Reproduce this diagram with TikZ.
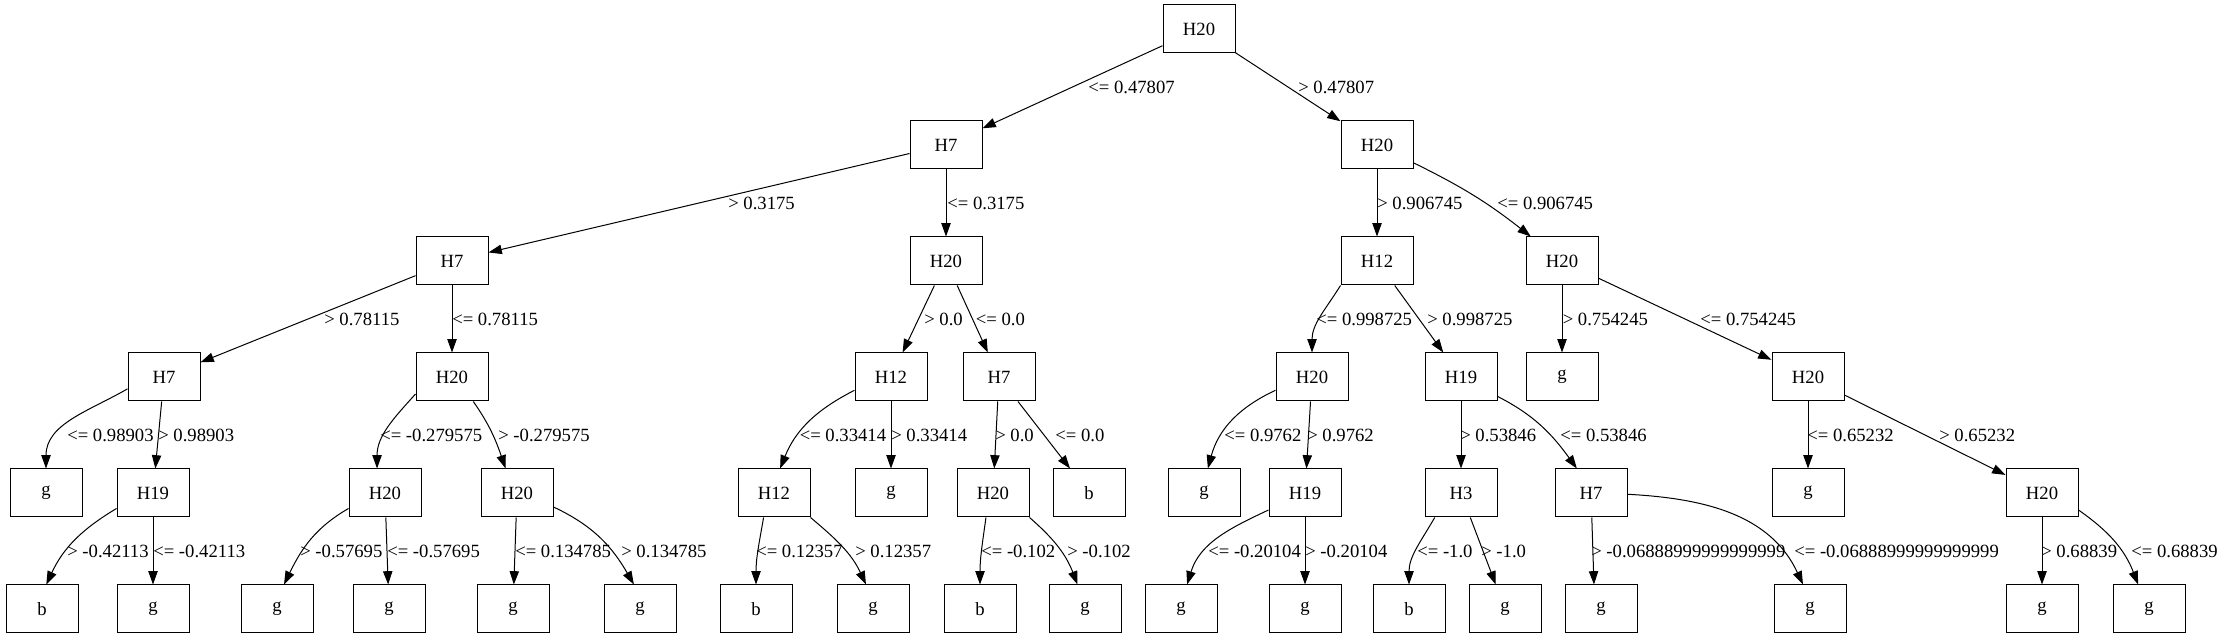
\documentclass[tikz,border=0pt]{standalone}
\usepackage{fontspec}
\setmainfont{Liberation Serif}
\usetikzlibrary{arrows.meta}
\begin{document}
\begin{tikzpicture}[x=0.75pt,y=0.75pt,
  box/.style={draw, line width=0.75pt, minimum width=54pt, minimum height=36pt, inner sep=0pt, font=\fontsize{14}{16}\selectfont},
  lbl/.style={anchor=west, inner sep=0pt, font=\fontsize{14}{16}\selectfont},
  arr/.style={line width=0.75pt, -{Triangle[length=10pt,width=7pt]}}]
\useasboundingbox (0,0) rectangle (2224,639);
% level 0
\node[box] (r) at (1199,610) {H20};
% level 1
\node[box] (a1) at (946,494) {H7};
\node[box] (a2) at (1377,494) {H20};
% level 2
\node[box] (b1) at (452,378) {H7};
\node[box] (b2) at (946,378) {H20};
\node[box] (b3) at (1377,378) {H12};
\node[box] (b4) at (1562,378) {H20};
% level 3
\node[box] (c1) at (164,262) {H7};
\node[box] (c2) at (452,262) {H20};
\node[box] (c3) at (891,262) {H12};
\node[box] (c4) at (999,262) {H7};
\node[box] (c5) at (1312,262) {H20};
\node[box] (c6) at (1461,262) {H19};
\node[box] (c7) at (1562,262) {g};
\node[box] (c8) at (1808,262) {H20};
% level 4
\node[box] (d1) at (46,146) {g};
\node[box] (d2) at (153,146) {H19};
\node[box] (d3) at (385,146) {H20};
\node[box] (d4) at (517,146) {H20};
\node[box] (d5) at (774,146) {H12};
\node[box] (d6) at (891,146) {g};
\node[box] (d7) at (993,146) {H20};
\node[box] (d8) at (1089,146) {b};
\node[box] (d9) at (1204,146) {g};
\node[box] (d10) at (1305,146) {H19};
\node[box] (d11) at (1461,146) {H3};
\node[box] (d12) at (1591,146) {H7};
\node[box] (d13) at (1808,146) {g};
\node[box] (d14) at (2042,146) {H20};
% level 5
\node[box] (e1) at (42,30) {b};
\node[box] (e2) at (153,30) {g};
\node[box] (e3) at (277,30) {g};
\node[box] (e4) at (389,30) {g};
\node[box] (e5) at (513,30) {g};
\node[box] (e6) at (640,30) {g};
\node[box] (e7) at (756,30) {b};
\node[box] (e8) at (873,30) {g};
\node[box] (e9) at (980,30) {b};
\node[box] (e10) at (1085,30) {g};
\node[box] (e11) at (1181,30) {g};
\node[box] (e12) at (1305,30) {g};
\node[box] (e13) at (1409,30) {b};
\node[box] (e14) at (1505,30) {g};
\node[box] (e15) at (1601,30) {g};
\node[box] (e16) at (1810,30) {g};
\node[box] (e17) at (2042,30) {g};
\node[box] (e18) at (2149,30) {g};
% edges
\draw[arr] (r) -- (a1);
\draw[arr] (r) -- (a2);
\draw[arr] (a1) -- (b1);
\draw[arr] (a1) -- (b2);
\draw[arr] (a2) -- (b3);
\draw[arr] (a2) to[bend left=6] (b4);
\draw[arr] (b1) -- (c1);
\draw[arr] (b1) -- (c2);
\draw[arr] (b2) -- (c3);
\draw[arr] (b2) -- (c4);
\draw[arr] (b3.south west) to[out=238,in=90] (c5.north);
\draw[arr] (b3) -- (c6);
\draw[arr] (b4) -- (c7);
\draw[arr] (b4) -- (c8);
\draw[arr] (c1.198) to[out=210,in=90] (d1.north);
\draw[arr] (c1) -- (d2);
\draw[arr] (c2.205) to[out=228,in=90] (d3.108);
\draw[arr] (c2.311) to[out=-55,in=109] (d4.115);
\draw[arr] (c3.200) to[out=207,in=68] (d5.76);
\draw[arr] (c3) -- (d6);
\draw[arr] (c4) -- (d7);
\draw[arr] (c4) -- (d8);
\draw[arr] (c5.200) to[out=205,in=75] (d9.81);
\draw[arr] (c5) -- (d10);
\draw[arr] (c6) -- (d11);
\draw[arr] (c6.332) to[out=-27,in=126] (d12.120);
\draw[arr] (c8) -- (d13);
\draw[arr] (c8) -- (d14);
\draw[arr] (d2.203) to[out=211,in=65] (e1.80);
\draw[arr] (d2) -- (e2);
\draw[arr] (d3.203) to[out=210,in=64] (e3.74);
\draw[arr] (d3) -- (e4);
\draw[arr] (d4) -- (e5);
\draw[arr] (d4.339) to[out=-25,in=120] (e6.104);
\draw[arr] (d5.247) to[out=260,in=90] (e7.north);
\draw[arr] (d5.south east) to[out=-40,in=115] (e8.106);
\draw[arr] (d7.254) to[out=262,in=90] (e9.north);
\draw[arr] (d7.south east) to[out=-41,in=111] (e10.107);
\draw[arr] (d10.205) to[out=205,in=73] (e11.76);
\draw[arr] (d10) -- (e12);
\draw[arr] (d11.223) to[out=240,in=90] (e13.north);
\draw[arr] (d11) -- (e14);
\draw[arr] (d12) -- (e15.106);
\draw[arr] (d12.358) to[out=-3,in=115] (e16.106);
\draw[arr] (d14) -- (e17);
\draw[arr] (d14.335) to[out=-35,in=111] (e18.114);
% labels level 0-1
\node[lbl] (l01) at (1088,552) {<= 0.47807};
\node[lbl] (l02) at (1298,552) {> 0.47807};
% labels level 1-2
\node[lbl] (l11) at (728,436) {> 0.3175};
\node[lbl] (l12) at (947,436) {<= 0.3175};
\node[lbl] (l13) at (1377,436) {> 0.906745};
\node[lbl] (l14) at (1497,436) {<= 0.906745};
% labels level 2-3
\node[lbl] (l21) at (324,320) {> 0.78115};
\node[lbl] (l22) at (452,320) {<= 0.78115};
\node[lbl] (l23) at (924,320) {> 0.0};
\node[lbl] (l24) at (975.5,320) {<= 0.0};
\node[lbl] (l25) at (1316,320) {<= 0.998725};
\node[lbl] (l26) at (1427,320) {> 0.998725};
\node[lbl] (l27) at (1562.5,320) {> 0.754245};
\node[lbl] (l28) at (1700,320) {<= 0.754245};
% labels level 3-4
\node[lbl] (l31) at (67,204) {<= 0.98903};
\node[lbl] (l32) at (158,204) {> 0.98903};
\node[lbl] (l33) at (380,204) {<= -0.279575};
\node[lbl] (l34) at (498,204) {> -0.279575};
\node[lbl] (l35) at (799.5,204) {<= 0.33414};
\node[lbl] (l36) at (891,204) {> 0.33414};
\node[lbl] (l37) at (995,204) {> 0.0};
\node[lbl] (l38) at (1055,204) {<= 0.0};
\node[lbl] (l39) at (1224,204) {<= 0.9762};
\node[lbl] (l310) at (1307,204) {> 0.9762};
\node[lbl] (l311) at (1460,204) {> 0.53846};
\node[lbl] (l312) at (1560,204) {<= 0.53846};
\node[lbl] (l313) at (1807,204) {<= 0.65232};
\node[lbl] (l314) at (1939,204) {> 0.65232};
% labels level 4-5
\node[lbl] (l41) at (67,88) {> -0.42113};
\node[lbl] (l42) at (153,88) {<= -0.42113};
\node[lbl] (l43) at (300,88) {> -0.57695};
\node[lbl] (l44) at (387,88) {<= -0.57695};
\node[lbl] (l45) at (515,88) {<= 0.134785};
\node[lbl] (l46) at (621,88) {> 0.134785};
\node[lbl] (l47) at (756,88) {<= 0.12357};
\node[lbl] (l48) at (855,88) {> 0.12357};
\node[lbl] (l49) at (981,88) {<= -0.102};
\node[lbl] (l410) at (1067,88) {> -0.102};
\node[lbl] (l411) at (1208,88) {<= -0.20104};
\node[lbl] (l412) at (1305,88) {> -0.20104};
\node[lbl] (l413) at (1417,88) {<= -1.0};
\node[lbl] (l414) at (1481,88) {> -1.0};
\node[lbl] (l415) at (1591,88) {> -0.06888999999999999};
\node[lbl] (l416) at (1794,88) {<= -0.06888999999999999};
\node[lbl] (l417) at (2041,88) {> 0.68839};
\node[lbl] (l418) at (2131,88) {<= 0.68839};
\end{tikzpicture}
\end{document}
